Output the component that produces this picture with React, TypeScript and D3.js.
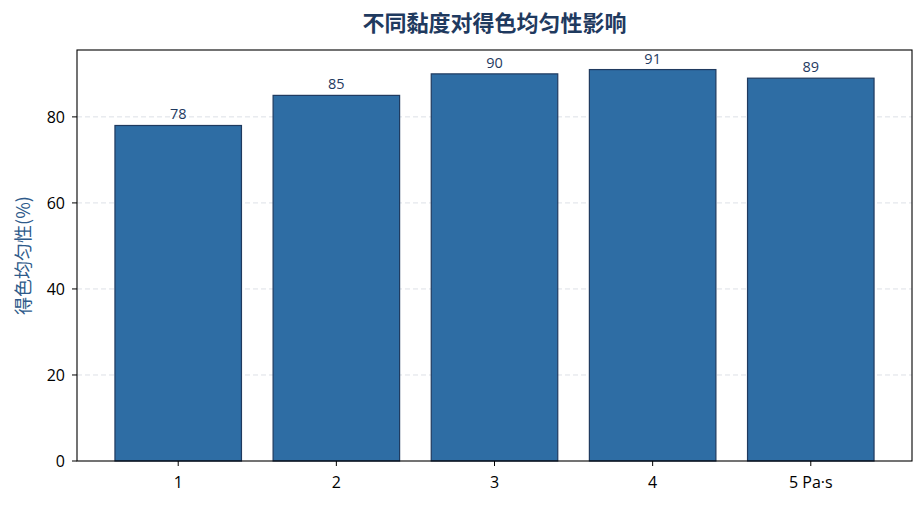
import React from "react";
import * as d3 from "d3";

const categories = ["1", "2", "3", "4", "5 Pa·s"];
const values = [78, 85, 90, 91, 89];
const yTicks = [0, 20, 40, 60, 80];
const title = "不同黏度对得色均匀性影响";
const yLabel = "得色均匀性(%)";

const W = 924;
const H = 506;
const M = { left: 77, right: 12, top: 50, bottom: 45 };

export default function App() {
  const x = d3.scaleLinear().domain([-0.64, categories.length - 1 + 0.64]).range([M.left, W - M.right]);
  const y = d3.scaleLinear().domain([0, d3.max(values)! * 1.05]).range([H - M.bottom, M.top]);
  const bw = x(0.8) - x(0);
  const cjk = "'Noto Sans CJK SC', 'Noto Sans', sans-serif";
  const latin = "'Open Sans', 'Noto Sans', 'Noto Sans CJK SC', sans-serif";
  return (
    <svg width={W} height={H} style={{ position: "absolute", left: 0, top: 0, background: "#fff" }} fontFamily={latin}>
      <rect x={0} y={0} width={W} height={H} fill="#fff" />
      {yTicks.filter((t) => t > 0).map((t) => (
        <line key={"g" + t} x1={M.left} x2={W - M.right} y1={y(t)} y2={y(t)} stroke="#d9dde3" strokeWidth={0.9} strokeDasharray="5,3" />
      ))}
      {values.map((v, i) => (
        <g key={i}>
          <rect x={x(i) - bw / 2} y={y(v)} width={bw} height={y(0) - y(v)} fill="#2e6da4" stroke="#1f3a5f" strokeWidth={1.2} />
          <text x={x(i)} y={y(v) - 6} textAnchor="middle" fontSize={14.5} fill="#1f3a5f">{v}</text>
        </g>
      ))}
      <rect x={M.left} y={M.top} width={W - M.right - M.left} height={H - M.bottom - M.top} fill="none" stroke="#000" strokeWidth={1.1} />
      {yTicks.map((t) => (
        <g key={"t" + t}>
          <line x1={M.left - 5} x2={M.left} y1={y(t)} y2={y(t)} stroke="#000" strokeWidth={1} />
          <text x={M.left - 12} y={y(t)} dy="0.36em" textAnchor="end" fontSize={16} fill="#000">{t}</text>
        </g>
      ))}
      {categories.map((c, i) => (
        <g key={"c" + i}>
          <line x1={x(i)} x2={x(i)} y1={H - M.bottom} y2={H - M.bottom + 5} stroke="#000" strokeWidth={1} />
          <text x={x(i)} y={H - M.bottom + 27} textAnchor="middle" fontSize={16} fill="#000">{c}</text>
        </g>
      ))}
      <text x={(M.left + W - M.right) / 2} y={31} textAnchor="middle" fontSize={22} fontWeight="bold" fill="#1f3a5f" fontFamily={cjk}>{title}</text>
      <text transform={`translate(30,${(M.top + H - M.bottom) / 2}) rotate(-90)`} textAnchor="middle" fontSize={18} fill="#2e5a8a" fontFamily={cjk}>{yLabel}</text>
    </svg>
  );
}
